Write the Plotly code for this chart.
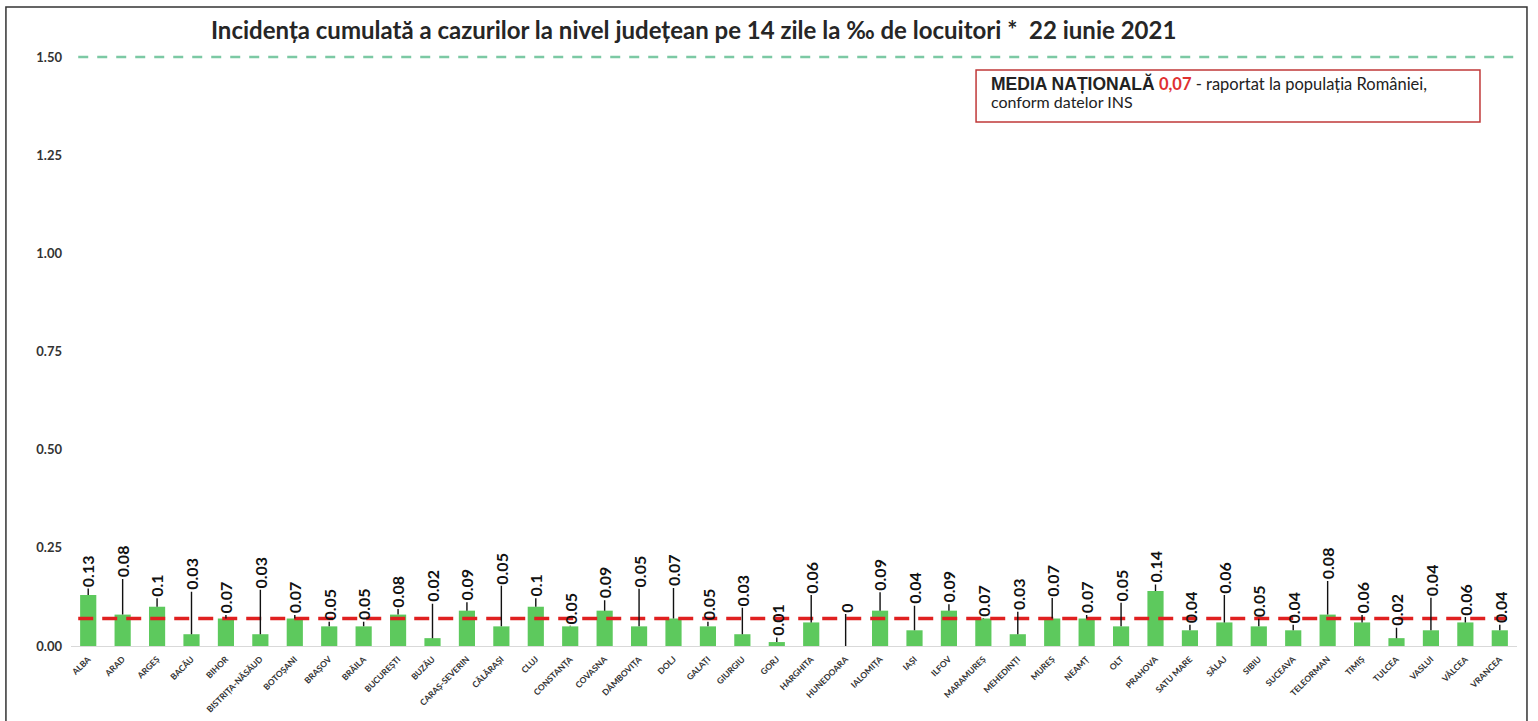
import plotly.graph_objects as go

counties = ["ALBA", "ARAD", "ARGEȘ", "BACĂU", "BIHOR", "BISTRIȚA-NĂSĂUD", "BOTOȘANI", "BRAȘOV",
            "BRĂILA", "BUCUREȘTI", "BUZĂU", "CARAȘ-SEVERIN", "CĂLĂRAȘI", "CLUJ", "CONSTANȚA",
            "COVASNA", "DÂMBOVIȚA", "DOLJ", "GALAȚI", "GIURGIU", "GORJ", "HARGHITA", "HUNEDOARA",
            "IALOMIȚA", "IAȘI", "ILFOV", "MARAMUREȘ", "MEHEDINȚI", "MUREȘ", "NEAMȚ", "OLT",
            "PRAHOVA", "SATU MARE", "SĂLAJ", "SIBIU", "SUCEAVA", "TELEORMAN", "TIMIȘ", "TULCEA",
            "VASLUI", "VÂLCEA", "VRANCEA"]
incidence = [0.13, 0.08, 0.1, 0.03, 0.07, 0.03, 0.07, 0.05, 0.05, 0.08, 0.02, 0.09, 0.05, 0.1,
             0.05, 0.09, 0.05, 0.07, 0.05, 0.03, 0.01, 0.06, 0, 0.09, 0.04, 0.09, 0.07, 0.03,
             0.07, 0.07, 0.05, 0.14, 0.04, 0.06, 0.05, 0.04, 0.08, 0.06, 0.02, 0.04, 0.06, 0.04]
national_avg = 0.07
threshold = 1.5
y_max = 1.5
y_ticks = [0, 0.25, 0.5, 0.75, 1.0, 1.25, 1.5]

# label callout offsets (pixels above bar top) - layout only
label_lift = [-24, -53, -21, -60, -21, -62, -21, -22, -22, -23, -52, -26, -58, -21, -18, -28,
              -55, -48, -22, -44, -22, -45, -38, -36, -42, -24, -18, -40, -38, -21, -41, -24,
              -23, -45, -25, -23, -51, -25, -28, -50, -23, -23]

FONT = "Lato"
fig = go.Figure()
fig.add_trace(go.Bar(x=counties, y=incidence, marker=dict(color="#5DC95D", line=dict(width=0)),
                     hoverinfo="x+y"))

annotations = []
for c, v, lift in zip(counties, incidence, label_lift):
    annotations.append(dict(x=c, y=v, xref="x", yref="y", text=f"{v:g}", textangle=-90,
                            showarrow=True, arrowhead=0, arrowwidth=1.4, arrowcolor="#111111",
                            ax=0, ay=lift, standoff=0,
                            font=dict(family=FONT, size=16, color="#111111", weight="bold")))

annotations.append(dict(
    x=0.6349, y=0.9542, xref="paper", yref="paper", xanchor="left", yanchor="middle", align="left",
    showarrow=False,
    text=("<span style='font-family:Liberation Sans;font-size:17.5px'><b>MEDIA NAȚIONALĂ</b></span> "
          "<span style='color:#E03030'><b>0,07</b></span>"
          " - raportat la populația României,"),
    font=dict(family=FONT, size=16.5, color="#222222")))
annotations.append(dict(
    x=0.6349, y=0.9236, xref="paper", yref="paper", xanchor="left", yanchor="middle", align="left",
    showarrow=False, text="conform datelor INS",
    font=dict(family=FONT, size=16, color="#222222")))

thr_paper = threshold / y_max
shapes = [
    dict(type="line", xref="paper", yref="paper", x0=0.005, x1=0.9986, y0=thr_paper, y1=thr_paper,
         line=dict(color="#7CC9A4", width=2.5, dash="10px,9px")),
    dict(type="line", xref="paper", yref="y", x0=0.005, x1=0.993, y0=national_avg, y1=national_avg,
         line=dict(color="#E02020", width=3.5, dash="15px,9px")),
    dict(type="rect", xref="paper", yref="paper", x0=0.6259, x1=0.9744, y0=0.8897, y1=0.978,
         line=dict(color="#C03838", width=1.5), fillcolor="rgba(0,0,0,0)"),
    dict(type="rect", xref="paper", yref="paper", x0=-0.045, x1=1.0069, y0=-0.2, y1=1.0849,
         line=dict(color="#333333", width=1.5), fillcolor="rgba(0,0,0,0)"),
]

fig.update_layout(
    width=1538, height=721,
    margin=dict(l=71, r=21, t=57, b=75),
    paper_bgcolor="white", plot_bgcolor="white",
    showlegend=False,
    bargap=0.53,
    title=dict(text="<b>Incidența cumulată a cazurilor la nivel județean pe 14 zile la ‰ de locuitori *  22 iunie 2021</b>",
               x=0.451, xanchor="center", y=0.958, yanchor="middle",
               font=dict(family=FONT, size=24, color="#262626")),
    xaxis=dict(tickangle=-45, tickfont=dict(family=FONT, size=8.5, color="#333333", weight="bold"),
               showline=True, linecolor="#D9D9D9", linewidth=1, ticks="", showgrid=False,
               ticklabelstandoff=4, automargin=False),
    yaxis=dict(range=[0, y_max], tickvals=y_ticks, tickformat=".2f", showgrid=False,
               zeroline=False, showline=False, ticks="", ticklen=0, ticklabelstandoff=8,
               automargin=False,
               tickfont=dict(family=FONT, size=13, color="#333333", weight="bold")),
    annotations=annotations,
    shapes=shapes,
)

fig.write_html("out.html", config={"displayModeBar": False},
               post_script="document.body.style.margin='0';")
